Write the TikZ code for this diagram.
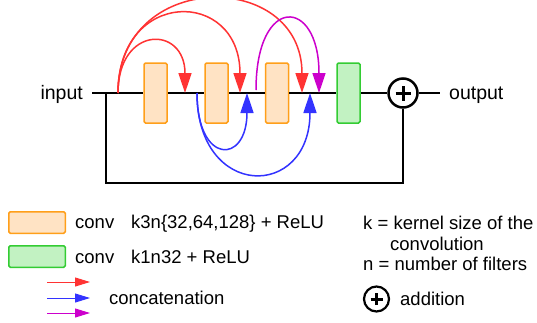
\documentclass[tikz,border=0pt]{standalone}
\usepackage{fontspec}
\setmainfont{Liberation Sans}
\usetikzlibrary{arrows.meta,positioning}
\definecolor{convfill}{HTML}{FFE3C4}
\definecolor{convline}{HTML}{FF9F1A}
\definecolor{onefill}{HTML}{C2F2C2}
\definecolor{oneline}{HTML}{33CC33}
\definecolor{catred}{HTML}{FF3333}
\definecolor{catblue}{HTML}{3333FF}
\definecolor{catmag}{HTML}{CC00CC}
\tikzset{
  convbox/.style={draw=convline,fill=convfill,line width=1.5pt,rounded corners=1.5pt,
    minimum width=23pt,minimum height=60pt,inner sep=0pt},
  onebox/.style={convbox,draw=oneline,fill=onefill},
  addnode/.style={circle,draw,line width=2.5pt,minimum size=29pt,inner sep=0pt,
    path picture={\draw[line width=3pt]
      ([xshift=-#1]path picture bounding box.center) -- ([xshift=#1]path picture bounding box.center)
      ([yshift=-#1]path picture bounding box.center) -- ([yshift=#1]path picture bounding box.center);}},
  addnode/.default=7.5pt,
  cat/.style={line width=1.5pt,-{Triangle[length=20pt,width=13pt]}},
  key/.style={line width=1pt,-{Triangle[length=15pt,width=9pt]}},
  lbl/.style={inner sep=0pt,font=\fontsize{19.5}{22}\selectfont},
  txt/.style={inner sep=0pt,anchor=base west,font=\fontsize{18.5}{21}\selectfont}
}
\begin{document}
\begin{tikzpicture}[x=1pt,y=-1pt]
\useasboundingbox (0,0) rectangle (537,322);
\node[convbox] (c1) at (155.5,93) {};
\node[convbox] (c2) at (216.5,93) {};
\node[convbox] (c3) at (277,93) {};
\node[onebox] (k1) at (348.5,93) {};
\node[addnode] (add) at (403,93) {};
\node[lbl,anchor=base east] (in) at (83,99) {input};
\node[lbl,anchor=base west] (out) at (449,99) {output};
\coordinate (start) at (92,93);
\coordinate (stop) at (440,93);
\coordinate (split) at (106,93);
\coordinate (back) at (106,183);
\draw[line width=2.5pt] (start) -- (c1) -- (c2) -- (c3) -- (k1) -- (add) -- (stop);
\draw[line width=2.5pt] (split) -- (back) -| (add);

\coordinate (r0) at (118,93);
\coordinate (r1) at (185,93);
\coordinate (r2) at (240,93);
\coordinate (r3) at (302,93);
\coordinate (m0) at (256,90);
\coordinate (m1) at (319,93);
\coordinate (u0) at (197,93);
\coordinate (u1) at (247,93);
\coordinate (u2) at (310,93);
\path[cat,catred] (r0) edge[out=90,in=90,distance=68pt] (r1);
\path[cat,catred] (r0) edge[out=90,in=90,distance=105pt] (r2);
\path[cat,catred] (r0) edge[out=90,in=90,distance=124pt] (r3);
\path[cat,catmag] (m0) edge[out=90,in=90,distance=96pt] (m1);
\path[cat,catblue] (u0) edge[out=-90,in=-90,distance=72pt] (u1);
\path[cat,catblue] (u0) edge[out=-90,in=-90,distance=107pt] (u2);

\node[convbox,minimum width=56.5pt,minimum height=21.5pt] (keyconv) at (37,222.5) {};
\node[onebox,minimum width=56.5pt,minimum height=21.5pt] (keyone) at (37,256.5) {};
\node[txt] (conv1) at (75,228) {conv};
\node[txt] (spec1) at (131,228) {k3n\{32,64,128\} + ReLU};
\node[txt] (conv2) at (75,263) {conv};
\node[txt] (spec2) at (131,263) {k1n32 + ReLU};
\coordinate (a1) at (47,282);
\coordinate (a2) at (90,282);
\coordinate (b1) at (47,298);
\coordinate (b2) at (90,298);
\coordinate (d1) at (47,313);
\coordinate (d2) at (90,313);
\path[key,catred] (a1) edge (a2);
\path[key,catblue] (b1) edge (b2);
\path[key,catmag] (d1) edge (d2);
\node[txt] (concat) at (109,304) {concatenation};
\node[txt] (kdef) at (363,229) {k = kernel size of the};
\node[txt] (kdef2) at (390,250) {convolution};
\node[txt] (ndef) at (363,270) {n = number of filters};
\node[addnode=6pt,line width=2.2pt,minimum size=25pt] (keyadd) at (376.5,299) {};
\node[txt] (addtxt) at (400,305) {addition};
\end{tikzpicture}
\end{document}
